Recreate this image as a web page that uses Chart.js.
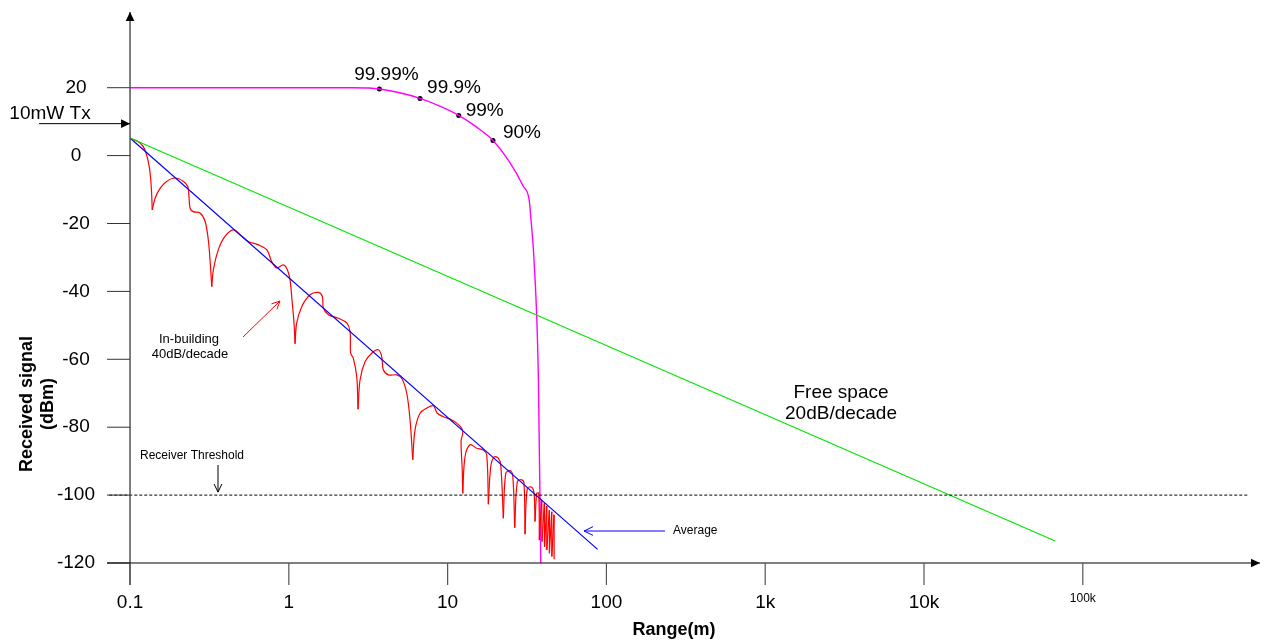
<!DOCTYPE html>
<html>
<head>
  <title>Received signal vs range</title>
  <script src="https://cdn.jsdelivr.net/npm/chart.js@4.4.0/dist/chart.umd.min.js"></script>
  <style>
    body {
      margin: 0;
      background-color: #fff;
    }
    #wrap {
      width: 1266px;
      height: 641px;
    }
  </style>
</head>
<body>
  <div id="wrap"><canvas id="chart" width="1266" height="641"></canvas></div>

  <script>
    // Axis ticks
    var xTicks = [0.1, 1, 10, 100, 1000, 10000, 100000];
    var xTickLabels = ['0.1', '1', '10', '100', '1k', '10k', '100k'];
    var yTicks = [-120, -100, -80, -60, -40, -20, 0, 20];

    // Free space, 20dB/decade
    var freeRange = [0.1, 67000];
    var freeDbm = [5.2, -113.5];

    // In-building average
    var avgRange = [0.1, 88];
    var avgDbm = [5.2, -116];

    // Receiver threshold
    var threshRange = [0.074, 1100000];
    var threshDbm = [-100, -100];

    // Reliability curve (magenta)
    var relRange = [0.1, 2.5, 3.2, 3.72, 5, 6.7, 9, 11.75, 15, 19.3, 24.7, 30, 32.6, 33.5, 35, 37.3, 38.6];
    var relDbm = [20, 20, 19.9, 19.6, 18.5, 16.85, 14.5, 11.84, 8.6, 4.47, -2.1, -9.1, -13, -18.9, -30.7, -66, -120];

    // Marked reliability points
    var pctLabels = ['99.99%', '99.9%', '99%', '90%'];
    var pctRange = [3.72, 6.7, 11.75, 19.3];
    var pctDbm = [19.6, 16.85, 11.84, 4.47];

    // Multipath signal (red)
    var redRange = [
      0.1, 0.1156, 0.124, 0.132, 0.136, 0.138, 0.144, 0.155, 0.17, 0.192,
      0.217, 0.231, 0.235, 0.239, 0.25, 0.276, 0.297, 0.311, 0.32, 0.327,
      0.335, 0.36, 0.396, 0.447, 0.493, 0.556, 0.643, 0.726, 0.78, 0.839,
      0.923, 0.979, 1.018, 1.042, 1.078, 1.094, 1.121, 1.206, 1.36, 1.534,
      1.626, 1.65, 1.774, 2.05, 2.316, 2.429, 2.45, 2.548, 2.677, 2.728,
      2.808, 3.019, 3.327, 3.662, 3.846, 3.936, 4.234, 4.781, 5.14, 5.526,
      5.797, 6.03, 6.234, 6.703, 7.386, 8.128, 8.612, 9.396, 10.35, 11.41,
      12.27, 12.45, 12.15, 12.36, 12.45, 12.87, 13.84, 15.25, 16.78, 17.63,
      18.05, 18.69, 19.6, 20.86, 21.6, 22.43, 23.22, 24.71, 25.7, 26.46,
      27.48, 29.29, 30.27, 30.72, 31.76, 33.86, 35.01, 35.52, 36.4, 37.47,
      37.8, 39.14, 39.31, 40.64, 40.76, 42.07, 42.14, 43.69, 43.75, 45.23,
      45.3, 46.77, 46.84
    ];
    var redDbm = [
      5.2, 3.7, 1.7, -3.2, -9.1, -16, -12.5, -9.6, -7.6, -6.6,
      -7.6, -9.1, -12, -15.5, -16.5, -16.9, -19.4, -24.8, -31.7, -38.6,
      -33.6, -27.7, -23.8, -21.9, -23.3, -25.3, -26.3, -27.7, -31.2, -33.1,
      -32.2, -33.6, -36.6, -41.5, -49.3, -55.4, -49.3, -44.5, -41, -40.3,
      -41.5, -44.9, -46.9, -47.9, -49.3, -51.8, -58.2, -59.7, -65.1, -74.7,
      -66.1, -60.7, -58.2, -57.2, -59.2, -63.1, -64.6, -64.6, -65.6, -70,
      -77.8, -89.6, -80.8, -75.9, -74.4, -73.7, -75.9, -76.9, -77.6, -78.8,
      -80.3, -81.8, -84, -92.6, -99.5, -88.7, -85.2, -86.2, -86.7, -88.2,
      -102.7, -91.6, -88.8, -89.1, -91.1, -106.8, -93.6, -92.8, -94.1, -109.6,
      -96, -95.5, -96.5, -111.5, -98, -97.7, -99.5, -107.8, -99.5, -99.5,
      -113.2, -101.4, -113.7, -102.4, -115.2, -103.2, -116.2, -104.4, -117.1, -104.9,
      -118.1, -105.8, -118.9
    ];
    // indices where the red trace has a sharp corner
    var redCusps = [5, 19, 35, 49, 61, 74, 80, 85, 89, 93, 97, 100, 101, 102, 103, 104,
                    105, 106, 107, 108, 109, 110, 111, 112];

    function toPoints(xs, ys) {
      return xs.map(function(x, i) { return { x: x, y: ys[i] }; });
    }

    function lineSet(points, color, width, extra) {
      var ds = {
        data: points,
        borderColor: color,
        borderWidth: width,
        pointRadius: 0,
        tension: 0,
        fill: false
      };
      for (var k in extra) ds[k] = extra[k];
      return ds;
    }

    var datasets = [];
    datasets.push(lineSet(toPoints(threshRange, threshDbm), '#000', 1, { borderDash: [3, 2] }));
    datasets.push(lineSet(toPoints(freeRange, freeDbm), '#00e600', 1.2));
    datasets.push(lineSet(toPoints(avgRange, avgDbm), '#0000ff', 1.2));

    // split the red trace at its cusps so the dips stay sharp
    var start = 0;
    redCusps.forEach(function(c) {
      if (c > start) {
        datasets.push(lineSet(toPoints(redRange.slice(start, c + 1), redDbm.slice(start, c + 1)),
          '#ff0000', 1.2, { tension: c <= 100 ? 0.35 : 0 }));
        start = c;
      }
    });

    datasets.push(lineSet(toPoints(relRange, relDbm), '#ff00ff', 1.4, { cubicInterpolationMode: 'monotone' }));
    datasets.push({
      data: toPoints(pctRange, pctDbm),
      showLine: false,
      pointRadius: 2.5,
      pointBackgroundColor: '#000',
      pointBorderColor: '#000',
      pointBorderWidth: 0
    });

    function arrow(ctx, x1, y1, x2, y2, color, filled, head) {
      var a = Math.atan2(y2 - y1, x2 - x1);
      var w = 0.45;
      ctx.strokeStyle = color;
      ctx.fillStyle = color;
      ctx.lineWidth = 1;
      ctx.beginPath();
      ctx.moveTo(x1, y1);
      ctx.lineTo(x2, y2);
      ctx.stroke();
      ctx.beginPath();
      ctx.moveTo(x2 - head * Math.cos(a - w), y2 - head * Math.sin(a - w));
      ctx.lineTo(x2, y2);
      ctx.lineTo(x2 - head * Math.cos(a + w), y2 - head * Math.sin(a + w));
      if (filled) {
        ctx.closePath();
        ctx.fill();
      } else {
        ctx.stroke();
      }
    }

    function text(ctx, str, x, y, font, align) {
      ctx.font = font;
      ctx.fillStyle = '#000';
      ctx.textAlign = align || 'center';
      ctx.textBaseline = 'middle';
      ctx.fillText(str, x, y);
    }

    // axes with arrows plus the notes on the chart
    var notesPlugin = {
      id: 'notes',
      afterDatasetsDraw: function(chart) {
        var ctx = chart.ctx;
        var xs = chart.scales.x;
        var ys = chart.scales.y;
        var area = chart.chartArea;
        var x0 = xs.getPixelForValue(0.1);
        var y0 = ys.getPixelForValue(-120);
        var big = '19px Arial, "Liberation Sans", sans-serif';
        var small = '12px Arial, "Liberation Sans", sans-serif';

        ctx.save();

        // y axis
        ctx.strokeStyle = '#555';
        ctx.lineWidth = 1.5;
        ctx.beginPath();
        ctx.moveTo(x0, y0 + 22);
        ctx.lineTo(x0, area.top + 6);
        ctx.stroke();
        arrow(ctx, x0, area.top + 6, x0, area.top - 1, '#000', true, 10);
        yTicks.forEach(function(v) {
          var y = ys.getPixelForValue(v);
          ctx.strokeStyle = '#333';
          ctx.lineWidth = 1;
          ctx.beginPath();
          ctx.moveTo(x0 - 23, y);
          ctx.lineTo(x0, y);
          ctx.stroke();
        });

        // x axis
        ctx.strokeStyle = '#000';
        ctx.lineWidth = 1.2;
        ctx.beginPath();
        ctx.moveTo(area.left, y0);
        ctx.lineTo(area.right - 6, y0);
        ctx.stroke();
        arrow(ctx, area.right - 6, y0, area.right, y0, '#000', true, 10);
        xTicks.forEach(function(v) {
          var x = xs.getPixelForValue(v);
          ctx.strokeStyle = '#555';
          ctx.lineWidth = 1.2;
          ctx.beginPath();
          ctx.moveTo(x, y0);
          ctx.lineTo(x, y0 + 22);
          ctx.stroke();
        });

        // axis titles
        text(ctx, 'Range(m)', 674, 630, 'bold 18px Arial, "Liberation Sans", sans-serif');
        ctx.save();
        ctx.translate(37, 404);
        ctx.rotate(-Math.PI / 2);
        text(ctx, 'Received signal', 0, -10, 'bold 18px Arial, "Liberation Sans", sans-serif');
        text(ctx, '(dBm)', 0, 11, 'bold 18px Arial, "Liberation Sans", sans-serif');
        ctx.restore();

        // transmitter level
        var yTx = ys.getPixelForValue(10);
        text(ctx, '10mW Tx', 50, yTx - 8, big);
        arrow(ctx, 39, yTx + 2, x0, yTx + 2, '#000', true, 10);

        // reliability labels
        var offs = [[7, -14], [34, -11], [26, -5], [29, -8]];
        pctLabels.forEach(function(lbl, i) {
          var px = xs.getPixelForValue(pctRange[i]);
          var py = ys.getPixelForValue(pctDbm[i]);
          text(ctx, lbl, px + offs[i][0], py + offs[i][1], big);
        });

        // in-building note
        text(ctx, 'In-building', 189, 339, '13px Arial, "Liberation Sans", sans-serif');
        text(ctx, '40dB/decade', 190, 354, '13px Arial, "Liberation Sans", sans-serif');
        arrow(ctx, 243, 337, 280, 301, '#ff0000', false, 9);

        // free space note
        text(ctx, 'Free space', 841, 393, big);
        text(ctx, '20dB/decade', 841, 414, big);

        // receiver threshold note
        text(ctx, 'Receiver Threshold', 192, 456, small);
        var yTh = ys.getPixelForValue(-100);
        arrow(ctx, 218, 465, 218, yTh - 3, '#000', false, 9);

        // average note
        text(ctx, 'Average', 673, 531, small, 'left');
        arrow(ctx, 665, 531, 584, 531, '#0000ff', false, 10);

        ctx.restore();
      }
    };

    Chart.defaults.font.family = 'Arial, "Liberation Sans", sans-serif';
    Chart.defaults.color = '#000';

    var chart = new Chart(document.getElementById('chart').getContext('2d'), {
      type: 'line',
      data: { datasets: datasets },
      options: {
        responsive: false,
        animation: false,
        layout: { padding: { left: 57, top: 13, right: 6, bottom: 28 } },
        plugins: {
          legend: { display: false },
          tooltip: { enabled: false }
        },
        scales: {
          x: {
            type: 'logarithmic',
            min: 0.0716,
            max: 1306000,
            grid: { display: false, drawTicks: false },
            border: { display: false },
            afterBuildTicks: function(scale) {
              scale.ticks = xTicks.map(function(v) { return { value: v }; });
            },
            afterFit: function(scale) {
              scale.height = 50;
              scale.paddingLeft = 0;
              scale.paddingRight = 0;
            },
            ticks: {
              padding: 28,
              autoSkip: false,
              maxRotation: 0,
              color: '#000',
              font: function(c) {
                return { size: (c.tick && c.tick.value === 100000) ? 12 : 19 };
              },
              callback: function(value) {
                var i = xTicks.indexOf(value);
                return i < 0 ? '' : xTickLabels[i];
              }
            }
          },
          y: {
            min: -120,
            max: 42,
            grid: { display: false, drawTicks: false },
            border: { display: false },
            afterBuildTicks: function(scale) {
              scale.ticks = yTicks.map(function(v) { return { value: v }; });
            },
            afterFit: function(scale) {
              scale.width = 50;
              scale.paddingTop = 0;
              scale.paddingBottom = 0;
            },
            ticks: {
              padding: 12,
              crossAlign: 'center',
              color: '#000',
              font: { size: 19 }
            }
          }
        }
      },
      plugins: [notesPlugin]
    });
  </script>
</body>
</html>
